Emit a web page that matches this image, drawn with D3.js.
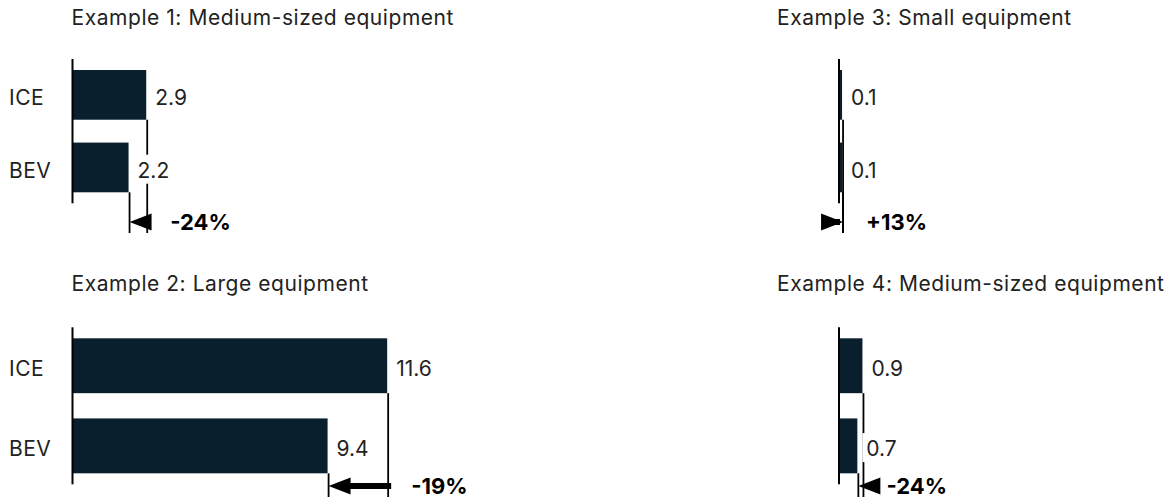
<!DOCTYPE html>
<html>
<head>
<meta charset="utf-8">
<script src="https://cdn.jsdelivr.net/npm/d3@7"></script>
<style>
  html, body { margin: 0; padding: 0; background: #fff; }
  svg { display: block; font-family: Inter, "Liberation Sans", sans-serif; }
</style>
</head>
<body>
<svg id="chart" width="1175" height="502"></svg>
<script>
// ---- data ----
const titles = [
  "Example 1: Medium-sized equipment",
  "Example 2: Large equipment",
  "Example 3: Small equipment",
  "Example 4: Medium-sized equipment"
];
const categories = ["ICE", "BEV"];
const iceValues = [2.9, 11.6, 0.1, 0.9];
const bevValues = [2.2, 9.4, 0.1, 0.7];
const changeLabels = ["-24%", "-19%", "+13%", "-24%"];
const changeValues = [-24, -19, 13, -24];
const showCategoryLabels = [true, true, false, false];

// ---- layout ----
const barColor = "#0a1f2d";
const textColor = "#222";
const fontSize = 21;

// column: x of the zero line and x of the panel title
const columns = [{ x0: 73, titleX: 71.5 }, { x0: 839.5, titleX: 777 }];
// rows: title baseline, band range, bottom of the annotation brackets
const rows = [
  { titleY: 25, bandTop: 70, bandBottom: 192.3, lineBottom: 233 },
  { titleY: 290.7, bandTop: 338.3, bandBottom: 473.3, lineBottom: 497 }
];
// panel index -> row / column / pixel width of 12 units
const panels = [
  { row: 0, col: 0, span: 303 },
  { row: 1, col: 0, span: 325 },
  { row: 0, col: 1, span: 306 },
  { row: 1, col: 1, span: 306 }
];

const svg = d3.select("#chart");

panels.forEach((p, i) => {
  const r = rows[p.row], c = columns[p.col];
  const g = svg.append("g").attr("class", "panel panel-" + (i + 1));

  const x = d3.scaleLinear().domain([0, 12]).range([c.x0, c.x0 + p.span]);
  const y = d3.scaleBand().domain(categories)
    .range([r.bandTop, r.bandBottom]).paddingInner(0.315).paddingOuter(0);

  const vals = { ICE: iceValues[i], BEV: bevValues[i] };
  const bw = y.bandwidth();

  // title
  g.append("text")
    .attr("x", c.titleX).attr("y", r.titleY)
    .attr("font-size", fontSize).attr("fill", textColor)
    .attr("letter-spacing", 0.55)
    .text(titles[i]);

  // bars
  g.selectAll("rect.bar").data(categories).join("rect")
    .attr("class", "bar")
    .attr("x", x(0))
    .attr("y", d => y(d))
    .attr("width", d => x(vals[d]) - x(0))
    .attr("height", bw)
    .attr("fill", barColor);

  // zero line
  const axisTop = r.bandTop - 11, axisBottom = r.bandBottom + 11;
  g.append("line")
    .attr("x1", x(0) - 0.5).attr("x2", x(0) - 0.5)
    .attr("y1", axisTop).attr("y2", axisBottom)
    .attr("stroke", "#000").attr("stroke-width", 2);

  // brackets from the bar ends down to the change arrow
  const iceX = x(vals.ICE) + 1;
  const bevX = x(vals.BEV) + 1;
  g.append("line")
    .attr("x1", iceX).attr("x2", iceX)
    .attr("y1", y("ICE") + bw).attr("y2", r.lineBottom)
    .attr("stroke", "#000").attr("stroke-width", 1.8);
  g.append("line")
    .attr("x1", bevX).attr("x2", bevX)
    .attr("y1", y("BEV") + bw).attr("y2", r.lineBottom)
    .attr("stroke", "#000").attr("stroke-width", 1.8);

  // change arrow, pointing from ICE towards BEV
  const arrowY = r.lineBottom - 11;
  const dir = changeValues[i] < 0 ? -1 : 1;
  const headLen = 22, headHalf = 8.5;
  const tip = bevX;
  g.append("line")
    .attr("x1", iceX - dir * 3).attr("x2", tip - dir * headLen * 0.5)
    .attr("y1", arrowY).attr("y2", arrowY)
    .attr("stroke", "#000").attr("stroke-width", 6);
  g.append("path")
    .attr("d", d3.line()([
      [tip, arrowY],
      [tip - dir * headLen, arrowY - headHalf],
      [tip - dir * headLen, arrowY + headHalf]
    ]) + "Z")
    .attr("fill", "#000");

  g.append("text")
    .attr("x", Math.max(iceX, bevX) + 23).attr("y", arrowY + 8)
    .attr("font-size", 22).attr("font-weight", 700).attr("fill", "#000")
    .text(changeLabels[i]);

  // value labels, on a white ground so the bracket passes behind them
  categories.forEach(cat => {
    const base = y(cat) + bw / 2 + 10.25;
    const lg = g.append("g");
    const bg = lg.append("rect").attr("fill", "#fff");
    const t = lg.append("text")
      .attr("x", x(vals[cat]) + 9).attr("y", base)
      .attr("font-size", fontSize).attr("fill", textColor)
      .text(d3.format(".1f")(vals[cat]));
    const bb = t.node().getBBox();
    bg.attr("x", bb.x - 4).attr("y", bb.y - 3)
      .attr("width", bb.width + 8).attr("height", bb.height + 4);

    if (showCategoryLabels[i]) {
      g.append("text")
        .attr("x", 9).attr("y", base)
        .attr("font-size", fontSize).attr("fill", textColor)
        .attr("letter-spacing", 0.5)
        .text(cat);
    }
  });
});
</script>
</body>
</html>
